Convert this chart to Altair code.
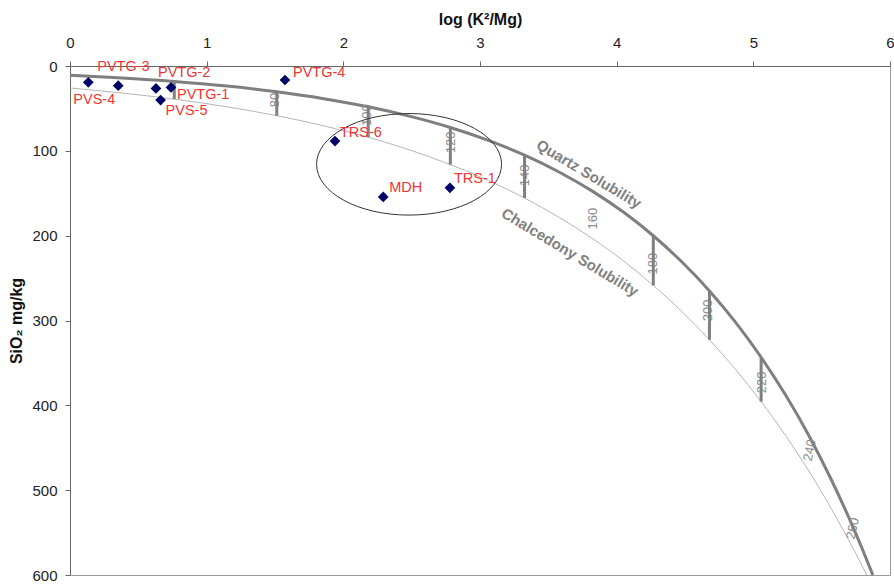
import altair as alt
import pandas as pd

FONT = "Liberation Sans"

# ---- solubility curves ----
curve_x = [0.000, 0.353, 0.763, 1.149, 1.513, 1.856, 2.182, 2.490, 2.783, 3.061,
           3.326, 3.578, 3.819, 4.049, 4.268, 4.478, 4.679, 4.872, 5.057, 5.235,
           5.406, 5.570, 5.728, 5.805]
quartz_y = [10.8, 13.8, 18.2, 23.7, 30.4, 38.5, 48.1, 59.4, 72.5, 87.7,
            105.1, 124.9, 147.2, 172.2, 200.1, 231.1, 265.1, 302.5, 343.3, 387.6,
            435.5, 487.4, 543.0, 572.3]
chalc_y = [25.9, 31.4, 39.1, 48.1, 58.6, 70.5, 84.0, 99.2, 116.2, 134.9,
           155.6, 178.3, 203.0, 229.7, 258.6, 289.6, 322.8, 358.1, 395.7, 435.4,
           477.4, 521.7, 568.1, 592.0]
quartz_end = [5.874, 600.0]
chalc_end = [5.829, 600.0]

# ---- isotherm tick lines ----
tick_x = [0.763, 1.513, 2.182, 2.783, 3.326, 4.268, 4.679, 5.057]
tick_top = [18.2, 30.4, 48.1, 72.5, 105.1, 200.1, 265.1, 343.3]
tick_bottom = [39.1, 58.6, 84.0, 116.2, 155.6, 258.6, 322.8, 395.7]

# ---- isotherm labels ----
temp_text = ["80", "100", "120", "140", "160", "180", "200", "220", "240", "260"]
temp_x = [1.500, 2.173, 2.787, 3.328, 3.826, 4.265, 4.667, 5.062, 5.413, 5.728]
temp_y = [40, 58, 90, 129, 180, 233, 288, 373, 453, 545]

# ---- samples ----
sample_names = ["PVS-4", "PVTG-3", "PVTG-2", "PVTG-1", "PVS-5", "PVTG-4", "TRS-6", "MDH", "TRS-1"]
sample_x = [0.134, 0.353, 0.629, 0.739, 0.663, 1.573, 1.939, 2.292, 2.780]
sample_y = [19.2, 23.2, 26.4, 25.2, 40.1, 16.5, 88.5, 154.3, 143.6]

# ---- annotations ----
curve_names = ["Quartz Solubility", "Chalcedony Solubility"]
curve_name_x = [3.797, 3.658]
curve_name_y = [127.5, 219.6]
ellipse_center = [2.481, 115.9]

x_scale = alt.Scale(domain=[0, 6], nice=False, zero=False)
y_scale = alt.Scale(domain=[0, 600], reverse=True, nice=False, zero=False)

x_axis = alt.Axis(orient="top", title="log (K²/Mg)", values=[0, 1, 2, 3, 4, 5, 6], format="d",
                  grid=False, tickSize=5, labelPadding=11, titlePadding=8,
                  labelFontSize=15, titleFontSize=16, titleFontWeight="bold",
                  labelFont=FONT, titleFont=FONT, labelFlush=False,
                  domainColor="#666666", tickColor="#666666", labelColor="#222222", titleColor="#111111")
y_axis = alt.Axis(orient="left", title="SiO₂ mg/kg", values=[0, 100, 200, 300, 400, 500, 600],
                  grid=False, tickSize=5, labelPadding=8, titlePadding=7,
                  labelFontSize=15, titleFontSize=16, titleFontWeight="bold",
                  labelFont=FONT, titleFont=FONT, labelFlush=False,
                  domainColor="#666666", tickColor="#666666", labelColor="#222222", titleColor="#111111")

X = lambda f="x": alt.X(f"{f}:Q", scale=x_scale, axis=x_axis)
Y = lambda f="y": alt.Y(f"{f}:Q", scale=y_scale, axis=y_axis)

quartz_df = pd.DataFrame({"x": curve_x + [quartz_end[0]], "y": quartz_y + [quartz_end[1]]})
chalc_df = pd.DataFrame({"x": curve_x + [chalc_end[0]], "y": chalc_y + [chalc_end[1]]})
tick_df = pd.DataFrame({"x": tick_x, "y": tick_top, "y2": tick_bottom})
temp_df = pd.DataFrame({"x": temp_x, "y": temp_y, "t": temp_text})
samp_df = pd.DataFrame({"x": sample_x, "y": sample_y, "name": sample_names})

chalc_line = alt.Chart(chalc_df).mark_line(color="#b5b5b5", strokeWidth=1, interpolate="monotone").encode(
    x=X(), y=Y(), order="x:Q")
quartz_line = alt.Chart(quartz_df).mark_line(color="#7f7f7f", strokeWidth=3, interpolate="monotone").encode(
    x=X(), y=Y(), order="x:Q")

temp_labels = []
for i, t in enumerate(temp_text):
    ang = 270 if i < 8 else 282
    temp_labels.append(
        alt.Chart(temp_df.iloc[[i]]).mark_text(font=FONT, fontSize=13, color="#8a8a8a", angle=ang,
                                               align="center", baseline="middle").encode(
            x=X(), y=Y(), text="t:N"))

ticks = alt.Chart(tick_df).mark_rule(color="#808080", strokeWidth=3).encode(
    x=X(), y=Y(), y2="y2:Q")

ellipse = alt.Chart(pd.DataFrame({"x": [ellipse_center[0]], "y": [ellipse_center[1]]})).mark_point(
    shape="M -1 0 A 1 0.549 0 1 1 1 0 A 1 0.549 0 1 1 -1 0 Z", size=34225, filled=False,
    stroke="#333333", strokeWidth=1, opacity=1).encode(x=X(), y=Y())

names_df = pd.DataFrame({"x": curve_name_x, "y": curve_name_y, "t": curve_names})
curve_texts = alt.Chart(names_df).mark_text(font=FONT, fontSize=15, fontWeight="bold", color="#808080",
                                            angle=31, align="center", baseline="middle").encode(
    x=X(), y=Y(), text="t:N")

points = alt.Chart(samp_df).mark_point(shape="diamond", filled=True, size=115, color="#000066",
                                       opacity=1).encode(x=X(), y=Y())

offsets = {"PVS-4": (-15, 18), "PVTG-3": (-21, -19), "PVTG-2": (2, -15), "PVTG-1": (6, 8),
           "PVS-5": (5, 11), "PVTG-4": (8, -7), "TRS-6": (5, -8), "MDH": (6, -9), "TRS-1": (4, -9)}
sample_labels = []
for i, n in enumerate(sample_names):
    dx, dy = offsets[n]
    sample_labels.append(
        alt.Chart(samp_df.iloc[[i]]).mark_text(font=FONT, fontSize=14.5, color="#f03535", align="left",
                                               baseline="middle", dx=dx, dy=dy).encode(
            x=X(), y=Y(), text="name:N"))

chart = alt.layer(chalc_line, quartz_line, *temp_labels, ticks, ellipse, curve_texts, points,
                  *sample_labels).properties(
    width=820, height=509,
    autosize=alt.AutoSizeParams(type="none"),
    padding={"left": 70, "top": 66, "right": 4, "bottom": 11},
    background="white",
).configure_view(stroke="#999999", strokeWidth=1)

chart.save("out.html", embed_options={"renderer": "svg", "actions": False})
